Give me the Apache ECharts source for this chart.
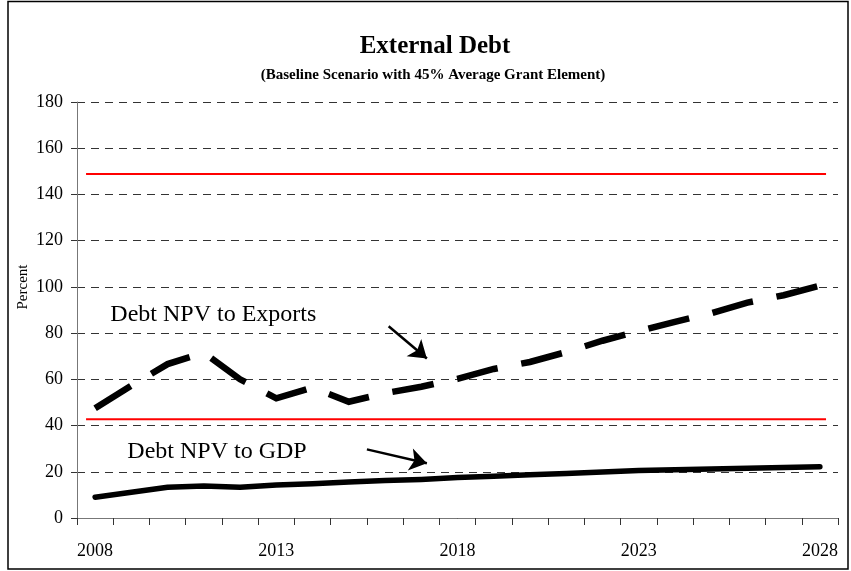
<!DOCTYPE html>
<html>
<head>
<meta charset="utf-8">
<script src="https://cdn.jsdelivr.net/npm/echarts@6/dist/echarts.min.js"></script>
<style>html,body{margin:0;padding:0;background:#fff}#c{width:851px;height:571px}</style>
</head>
<body>
<div id="c"></div>
<script>
// ---- data ----
const years = ['2008','2009','2010','2011','2012','2013','2014','2015','2016','2017','2018','2019','2020','2021','2022','2023','2024','2025','2026','2027','2028'];
const npvToExports = [47.5, 57.3, 66.6, 71.5, 60.0, 51.8, 56.4, 50.3, 54.0, 56.8, 60.2, 64.5, 67.5, 71.8, 76.7, 80.9, 84.9, 88.6, 93.2, 96.4, 100.5];
const npvToGDP = [9.0, 11.1, 13.3, 13.8, 13.3, 14.3, 14.8, 15.6, 16.2, 16.7, 17.5, 18.1, 18.7, 19.3, 19.9, 20.5, 20.9, 21.2, 21.5, 21.9, 22.2];
const thresholdSpan = [2007.75, 2028.17];
const thresholdExports = 148.8;
const thresholdGDP = 42.7;
const yTicks = {min: 0, max: 180, interval: 20};
const annotationText = ['Debt NPV to Exports', 'Debt NPV to GDP'];
const annotationAt = [[2008.42, 88], [2008.89, 28.5]];
const arrowExports = [[2016.10, 83.0], [2017.155, 69.0]];
const arrowGDP = [[2015.5, 29.7], [2017.155, 23.65]];
const titleText = 'External Debt';
const subtitleText = '(Baseline Scenario with 45% Average Grant Element)';
const yName = 'Percent';

const serif = '"Liberation Serif", "Times New Roman", serif';
const chart = echarts.init(document.getElementById('c'), null, {renderer: 'canvas'});
chart.setOption({
  animation: false,
  backgroundColor: '#fff',
  title: [
    {text: titleText, left: 430, top: 29, textAlign: 'center',
     textStyle: {fontFamily: serif, fontWeight: 'bold', fontSize: 25, color: '#000'}},
    {text: subtitleText, left: 428, top: 63, textAlign: 'center',
     textStyle: {fontFamily: serif, fontWeight: 'bold', fontSize: 15, color: '#000'}}
  ],
  graphic: [{type: 'rect', shape: {x: 8, y: 1.5, width: 840, height: 567.5},
             style: {fill: null, stroke: '#000', lineWidth: 1.5}, silent: true}],
  grid: {left: 77, right: 13, top: 102, bottom: 53, containLabel: false},
  xAxis: [
    {type: 'category', data: years, boundaryGap: true,
     axisLine: {lineStyle: {color: '#777', width: 1}},
     axisTick: {show: true, interval: 0, length: 7, lineStyle: {color: '#333'}},
     axisLabel: {interval: 4, margin: 24, fontFamily: serif, fontSize: 18, color: '#000'},
     splitLine: {show: false}},
    {type: 'value', min: 2007.5, max: 2028.5, show: false}
  ],
  yAxis: [{
    type: 'value', min: yTicks.min, max: yTicks.max, interval: yTicks.interval,
    name: yName, nameLocation: 'middle', nameRotate: 90, nameGap: 46, nameMoveOverlap: false,
    nameTextStyle: {fontFamily: serif, fontSize: 15, color: '#000', padding: [0, 0, 0, 46]},
    axisLine: {show: true, lineStyle: {color: '#777', width: 1}},
    axisTick: {show: true, length: 6, lineStyle: {color: '#333'}},
    axisLabel: {margin: 14, fontFamily: serif, fontSize: 18, color: '#000'},
    splitLine: {show: true, lineStyle: {color: '#333', width: 1, type: [8, 6]}}
  }],
  series: [
    {type: 'line', name: 'threshold exports', xAxisIndex: 1, symbol: 'none', silent: true,
     data: thresholdSpan.map(x => [x, thresholdExports]),
     lineStyle: {color: '#ff0000', width: 2}},
    {type: 'line', name: 'threshold gdp', xAxisIndex: 1, symbol: 'none', silent: true,
     data: thresholdSpan.map(x => [x, thresholdGDP]),
     lineStyle: {color: '#ff0000', width: 2}},
    {type: 'line', name: 'Debt NPV to Exports', xAxisIndex: 0, symbol: 'none',
     data: npvToExports,
     lineStyle: {color: '#000', width: 6.5, type: [42, 24], cap: 'butt', join: 'miter'}},
    {type: 'line', name: 'Debt NPV to GDP', xAxisIndex: 0, symbol: 'none',
     data: npvToGDP,
     lineStyle: {color: '#000', width: 5.5, cap: 'round', join: 'round'}},
    {type: 'scatter', xAxisIndex: 1, symbol: 'circle', symbolSize: 0, silent: true,
     itemStyle: {color: '#000', opacity: 1},
     data: annotationText.map((t, i) => ({name: t, value: annotationAt[i]})),
     label: {show: true, position: 'right', distance: 0, formatter: p => p.name,
             fontFamily: serif, fontSize: 24, color: '#000', opacity: 1,
             textBorderWidth: 0, textBorderColor: 'transparent'}},
    {type: 'lines', coordinateSystem: 'cartesian2d', xAxisIndex: 1, yAxisIndex: 0, silent: true,
     symbol: ['none', 'arrow'], symbolSize: 17,
     lineStyle: {color: '#000', width: 2.5, opacity: 1},
     data: [{coords: arrowExports}, {coords: arrowGDP}]}
  ]
});
</script>
</body>
</html>
